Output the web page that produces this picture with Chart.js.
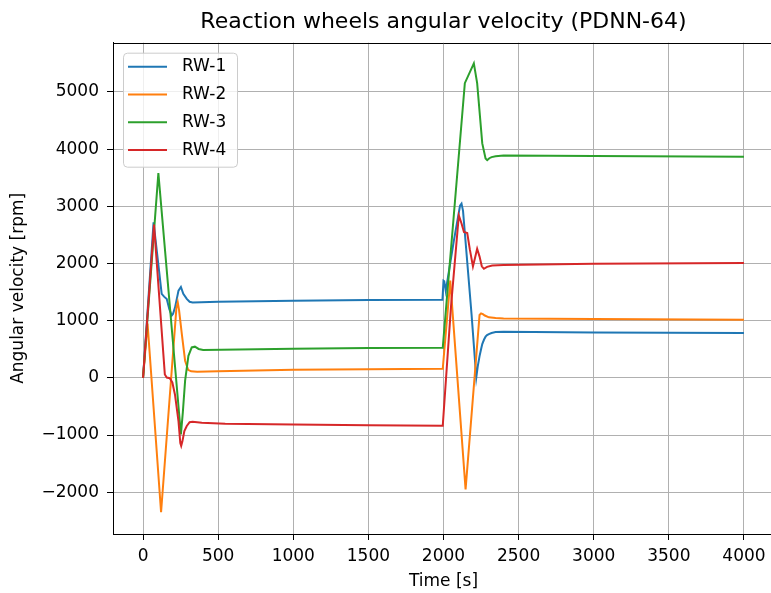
<!DOCTYPE html>
<html>
<head>
<meta charset="utf-8">
<title>Reaction wheels angular velocity (PDNN-64)</title>
<script src="https://cdn.jsdelivr.net/npm/chart.js@4/dist/chart.umd.min.js"></script>
<style>
  html, body { margin: 0; padding: 0; background: #fff; overflow: hidden; }
  canvas { display: block; }
</style>
</head>
<body>
<canvas id="chart" width="774" height="593"></canvas>
<script>
// Time samples [s] and wheel speeds [rpm] for each reaction wheel
const rw1Time = [0, 70, 124, 140, 158, 175, 191, 200, 213, 236, 252, 268, 291, 310, 330, 500, 1000, 1500, 1993, 2000, 2005, 2015, 2069, 2110, 2120, 2130, 2187, 2218, 2228, 2240, 2250, 2258, 2270, 2280, 2290, 2302, 2320, 2347, 2400, 3000, 4000];
const rw1Vals = [0, 2720, 1468, 1420, 1380, 1200, 1090, 1120, 1233, 1526, 1590, 1470, 1380, 1330, 1318, 1330, 1350, 1360, 1366, 1700, 1690, 1520, 2400, 3010, 3047, 2920, 1100, 5, 200, 380, 500, 591, 670, 720, 748, 766, 785, 800, 805, 795, 784];

const rw2Time = [0, 30, 120, 222, 231, 240, 258, 280, 300, 320, 360, 500, 1000, 1500, 1995, 2045, 2147, 2240, 2250, 2262, 2275, 2302, 2347, 2400, 3000, 4000];
const rw2Vals = [0, 950, -2350, 1220, 1320, 1180, 770, 300, 140, 115, 108, 115, 140, 150, 158, 1700, -1950, 1100, 1128, 1115, 1090, 1058, 1045, 1040, 1030, 1017];

const rw3Time = [0, 102, 252, 265, 280, 302, 324, 345, 370, 400, 1000, 1500, 1995, 2142, 2202, 2224, 2258, 2280, 2291, 2305, 2320, 2347, 2400, 3000, 4000];
const rw3Vals = [0, 3580, -990, -600, -50, 386, 532, 545, 505, 488, 510, 520, 526, 5152, 5500, 5152, 4099, 3836, 3806, 3840, 3860, 3876, 3888, 3880, 3864];

const rw4Time = [0, 73, 145, 158, 178, 195, 213, 236, 248, 254, 262, 275, 291, 310, 330, 391, 547, 1000, 1500, 1995, 2050, 2102, 2120, 2136, 2158, 2175, 2196, 2210, 2224, 2240, 2255, 2269, 2290, 2324, 2400, 3000, 4000];
const rw4Vals = [0, 2680, 60, 5, -5, -80, -300, -760, -1140, -1190, -1110, -930, -842, -775, -766, -784, -801, -815, -830, -838, 1250, 2842, 2700, 2549, 2531, 2250, 1947, 2100, 2257, 2120, 1950, 1907, 1940, 1965, 1975, 1995, 2010];

const seriesNames = ['RW-1', 'RW-2', 'RW-3', 'RW-4'];
const seriesColors = ['#1f77b4', '#ff7f0e', '#2ca02c', '#d62728'];

const xTicks = [0, 500, 1000, 1500, 2000, 2500, 3000, 3500, 4000];
const yTicks = [-2000, -1000, 0, 1000, 2000, 3000, 4000, 5000];

const FONT = 'DejaVu Sans';
const pairs = (t, v) => t.map((x, i) => ({ x, y: v[i] }));
const seriesData = [pairs(rw1Time, rw1Vals), pairs(rw2Time, rw2Vals), pairs(rw3Time, rw3Vals), pairs(rw4Time, rw4Vals)];

// Top spine of the axes box
const topSpine = {
  id: 'topSpine',
  afterDraw(chart) {
    const { ctx, chartArea } = chart;
    ctx.save();
    ctx.strokeStyle = '#000';
    ctx.lineWidth = 1;
    ctx.beginPath();
    ctx.moveTo(chartArea.left, Math.round(chartArea.top) + 0.5);
    ctx.lineTo(chartArea.right, Math.round(chartArea.top) + 0.5);
    ctx.stroke();
    ctx.restore();
  }
};

// Legend box in the upper-left corner of the plot
const innerLegend = {
  id: 'innerLegend',
  afterDatasetsDraw(chart) {
    const { ctx, chartArea } = chart;
    const x0 = chartArea.left + 10, y0 = chartArea.top + 10;
    const w = 114, h = 114, r = 4;
    ctx.save();
    ctx.beginPath();
    ctx.roundRect(x0 + 0.5, y0 + 0.5, w, h, r);
    ctx.fillStyle = 'rgba(255,255,255,0.8)';
    ctx.fill();
    ctx.strokeStyle = '#cccccc';
    ctx.lineWidth = 1;
    ctx.stroke();
    ctx.font = '17px "' + FONT + '"';
    ctx.textBaseline = 'middle';
    ctx.textAlign = 'left';
    chart.data.datasets.forEach((ds, i) => {
      const yy = y0 + 14 + i * 27.8;
      ctx.strokeStyle = ds.borderColor;
      ctx.lineWidth = 2;
      ctx.beginPath();
      ctx.moveTo(x0 + 5, yy);
      ctx.lineTo(x0 + 44, yy);
      ctx.stroke();
      ctx.fillStyle = '#000';
      ctx.fillText(ds.label, x0 + 59, yy);
    });
    ctx.restore();
  }
};

new Chart(document.getElementById('chart'), {
  type: 'line',
  data: {
    datasets: seriesNames.map((name, i) => ({
      label: name,
      data: seriesData[i],
      borderColor: seriesColors[i],
      backgroundColor: seriesColors[i],
      borderWidth: 2,
      pointRadius: 0,
      tension: 0,
      fill: false,
      order: seriesNames.length - i
    }))
  },
  options: {
    responsive: false,
    animation: false,
    devicePixelRatio: 1,
    layout: { padding: 0 },
    plugins: {
      legend: { display: false },
      tooltip: { enabled: false },
      title: {
        display: true,
        text: 'Reaction wheels angular velocity (PDNN-64)',
        fullSize: false,
        color: '#000',
        font: { family: FONT, size: 22, weight: 'normal', lineHeight: '26px' },
        padding: { top: 9, bottom: 7.7 }
      }
    },
    scales: {
      x: {
        type: 'linear',
        min: -200,
        max: 4200,
        afterBuildTicks: (s) => { s.ticks = xTicks.map(v => ({ value: v })); },
        afterFit: (s) => { s.height = 59; },
        ticks: {
          color: '#000',
          font: { family: FONT, size: 17 },
          padding: 6,
          maxRotation: 0,
          autoSkip: false,
          callback: (v) => String(v)
        },
        grid: { color: '#b0b0b0', lineWidth: 1, tickLength: 6, tickColor: '#000', tickWidth: 1 },
        border: { display: true, color: '#000', width: 1 },
        title: {
          display: true,
          text: 'Time [s]',
          color: '#000',
          font: { family: FONT, size: 17, lineHeight: '20px' },
          padding: { top: 0, bottom: 1 }
        }
      },
      y: {
        type: 'linear',
        min: -2730,
        max: 5860,
        afterBuildTicks: (s) => { s.ticks = yTicks.map(v => ({ value: v })); },
        afterFit: (s) => { s.width = 113; },
        ticks: {
          color: '#000',
          font: { family: FONT, size: 17 },
          padding: 8,
          autoSkip: false,
          callback: (v) => (v < 0 ? '\u2212' + Math.abs(v) : String(v))
        },
        grid: { color: '#b0b0b0', lineWidth: 1, tickLength: 6, tickColor: '#000', tickWidth: 1 },
        border: { display: true, color: '#000', width: 1 },
        title: {
          display: true,
          text: 'Angular velocity [rpm]',
          color: '#000',
          font: { family: FONT, size: 17, lineHeight: '20px' },
          padding: { top: 9, bottom: 0 }
        }
      }
    }
  },
  plugins: [topSpine, innerLegend]
});
</script>
</body>
</html>
